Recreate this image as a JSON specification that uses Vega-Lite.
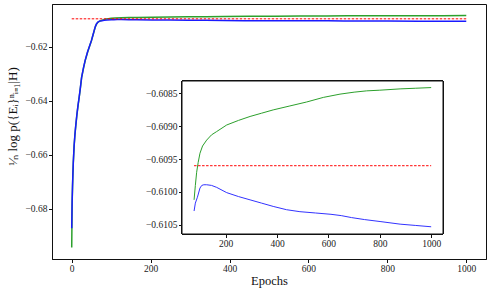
{
  "$schema": "https://vega.github.io/schema/vega-lite/v6.json",
  "width": 434,
  "height": 255,
  "autosize": "none",
  "padding": {"left": 52, "top": 4, "right": 5, "bottom": 30},
  "config": {
    "font": "Liberation Serif",
    "view": {"stroke": "#111111", "strokeWidth": 1},
    "axis": {
      "grid": false,
      "domainColor": "#111111",
      "domainWidth": 1,
      "tickColor": "#111111",
      "tickSize": 3.5,
      "labelFont": "Liberation Serif",
      "labelFontSize": 9.5,
      "labelColor": "#222222",
      "titleFont": "Liberation Serif",
      "titleFontWeight": "normal",
      "titleColor": "#111111"
    }
  },
  "datasets": {
    "runs": [
      {"s": "b", "e": 0, "v": -0.6873}, {"s": "b", "e": 1, "v": -0.6775}, {"s": "b", "e": 2, "v": -0.6718},
      {"s": "b", "e": 3, "v": -0.667}, {"s": "b", "e": 4, "v": -0.6628}, {"s": "b", "e": 6, "v": -0.6568},
      {"s": "b", "e": 8, "v": -0.6527}, {"s": "b", "e": 10, "v": -0.6495}, {"s": "b", "e": 13, "v": -0.6452},
      {"s": "b", "e": 16, "v": -0.6416}, {"s": "b", "e": 19, "v": -0.6385}, {"s": "b", "e": 22, "v": -0.635},
      {"s": "b", "e": 25, "v": -0.6313}, {"s": "b", "e": 30, "v": -0.6276}, {"s": "b", "e": 34, "v": -0.625},
      {"s": "b", "e": 40, "v": -0.6219}, {"s": "b", "e": 45, "v": -0.6198}, {"s": "b", "e": 50, "v": -0.6176},
      {"s": "b", "e": 54, "v": -0.6155}, {"s": "b", "e": 57, "v": -0.6139}, {"s": "b", "e": 60, "v": -0.6124},
      {"s": "b", "e": 63, "v": -0.6114}, {"s": "b", "e": 67, "v": -0.6107}, {"s": "b", "e": 72, "v": -0.61038},
      {"s": "b", "e": 77, "v": -0.61029}, {"s": "b", "e": 82, "v": -0.61017}, {"s": "b", "e": 90, "v": -0.61008},
      {"s": "b", "e": 100, "v": -0.60994}, {"s": "b", "e": 107, "v": -0.6099}, {"s": "b", "e": 115, "v": -0.60989},
      {"s": "b", "e": 126, "v": -0.60989}, {"s": "b", "e": 145, "v": -0.6099}, {"s": "b", "e": 165, "v": -0.60993},
      {"s": "b", "e": 204, "v": -0.61001}, {"s": "b", "e": 250, "v": -0.61007}, {"s": "b", "e": 295, "v": -0.61012},
      {"s": "b", "e": 340, "v": -0.61017}, {"s": "b", "e": 385, "v": -0.61022}, {"s": "b", "e": 437, "v": -0.61027},
      {"s": "b", "e": 489, "v": -0.6103}, {"s": "b", "e": 550, "v": -0.61032}, {"s": "b", "e": 610, "v": -0.61034},
      {"s": "b", "e": 650, "v": -0.61036}, {"s": "b", "e": 690, "v": -0.61039}, {"s": "b", "e": 740, "v": -0.61042},
      {"s": "b", "e": 801, "v": -0.61045}, {"s": "b", "e": 879, "v": -0.61049}, {"s": "b", "e": 940, "v": -0.61051},
      {"s": "b", "e": 1000, "v": -0.61053},
      {"s": "g", "e": 0, "v": -0.6944}, {"s": "g", "e": 1, "v": -0.6785}, {"s": "g", "e": 2, "v": -0.6722},
      {"s": "g", "e": 3, "v": -0.6672}, {"s": "g", "e": 4, "v": -0.663}, {"s": "g", "e": 6, "v": -0.657},
      {"s": "g", "e": 8, "v": -0.6529}, {"s": "g", "e": 10, "v": -0.6497}, {"s": "g", "e": 13, "v": -0.6454},
      {"s": "g", "e": 16, "v": -0.6418}, {"s": "g", "e": 19, "v": -0.6387}, {"s": "g", "e": 22, "v": -0.6352},
      {"s": "g", "e": 25, "v": -0.6315}, {"s": "g", "e": 30, "v": -0.6278}, {"s": "g", "e": 34, "v": -0.6252},
      {"s": "g", "e": 40, "v": -0.6221}, {"s": "g", "e": 45, "v": -0.6199}, {"s": "g", "e": 50, "v": -0.6177},
      {"s": "g", "e": 54, "v": -0.6156}, {"s": "g", "e": 57, "v": -0.614}, {"s": "g", "e": 60, "v": -0.6125},
      {"s": "g", "e": 63, "v": -0.6115}, {"s": "g", "e": 67, "v": -0.6108}, {"s": "g", "e": 72, "v": -0.61035},
      {"s": "g", "e": 77, "v": -0.61012}, {"s": "g", "e": 82, "v": -0.6099}, {"s": "g", "e": 87, "v": -0.6097},
      {"s": "g", "e": 93, "v": -0.60955}, {"s": "g", "e": 100, "v": -0.60941}, {"s": "g", "e": 110, "v": -0.6093},
      {"s": "g", "e": 126, "v": -0.60921}, {"s": "g", "e": 145, "v": -0.60913}, {"s": "g", "e": 165, "v": -0.60908},
      {"s": "g", "e": 204, "v": -0.60898}, {"s": "g", "e": 250, "v": -0.60891}, {"s": "g", "e": 295, "v": -0.60885},
      {"s": "g", "e": 340, "v": -0.6088}, {"s": "g", "e": 385, "v": -0.60875}, {"s": "g", "e": 450, "v": -0.60869},
      {"s": "g", "e": 515, "v": -0.60863}, {"s": "g", "e": 580, "v": -0.60856}, {"s": "g", "e": 645, "v": -0.60851},
      {"s": "g", "e": 700, "v": -0.60848}, {"s": "g", "e": 749, "v": -0.60846}, {"s": "g", "e": 800, "v": -0.60845},
      {"s": "g", "e": 879, "v": -0.60843}, {"s": "g", "e": 940, "v": -0.60842}, {"s": "g", "e": 1000, "v": -0.60841},
      {"s": "r", "e": 0, "v": -0.6096}, {"s": "r", "e": 77, "v": -0.6096}, {"s": "r", "e": 1000, "v": -0.6096}
    ]
  },
  "data": {"name": "runs"},
  "layer": [
    {
      "encoding": {
        "x": {
          "field": "e", "type": "quantitative",
          "scale": {"domain": [-50, 1050], "nice": false, "zero": false},
          "axis": {"values": [0, 200, 400, 600, 800, 1000], "format": "d", "title": "Epochs", "titleFontSize": 12.5, "titlePadding": 1.5, "labelPadding": 0.5}
        },
        "y": {
          "field": "v", "type": "quantitative",
          "scale": {"domain": [-0.6987, -0.6041], "nice": false, "zero": false},
          "axis": {"values": [-0.62, -0.64, -0.66, -0.68], "format": ".2f", "title": "¹⁄ₙ log p({Eᵢ}ⁿᵢ₌₁|H)", "titleFontSize": 13, "titlePadding": 6, "titleY": 112, "labelPadding": 1.5}
        }
      },
      "layer": [
        {"transform": [{"filter": "datum.s == 'g'"}], "mark": {"type": "line", "color": "#2ca02c", "strokeWidth": 1.5}},
        {"transform": [{"filter": "datum.s == 'b'"}], "mark": {"type": "line", "color": "#1a1aff", "strokeWidth": 1.5}},
        {"transform": [{"filter": "datum.s == 'r'"}], "mark": {"type": "line", "color": "#ff0000", "strokeWidth": 1, "strokeDash": [2.5, 1.5]}}
      ]
    },
    {
      "transform": [{"filter": "datum.e >= 76"}],
      "encoding": {
        "x": {
          "field": "e", "type": "quantitative",
          "scale": {"domain": [30, 1046], "range": [130, 391], "nice": false, "zero": false},
          "axis": {"orient": "bottom", "offset": -25, "values": [200, 400, 600, 800, 1000], "format": "d", "title": null, "labelPadding": 0.5, "domain": false}
        },
        "y": {
          "field": "v", "type": "quantitative",
          "scale": {"domain": [-0.61064, -0.60831], "range": [230, 77], "nice": false, "zero": false},
          "axis": {"orient": "left", "offset": -130, "values": [-0.6085, -0.609, -0.6095, -0.61, -0.6105], "format": ".4f", "title": null, "labelPadding": 1.5, "domain": false}
        }
      },
      "layer": [
        {
          "mark": {"type": "rect", "fill": "white", "stroke": "#111111", "strokeWidth": 1},
          "encoding": {
            "x": {"datum": 30, "type": "quantitative"},
            "x2": {"datum": 1046},
            "y": {"datum": -0.61064, "type": "quantitative"},
            "y2": {"datum": -0.60831}
          }
        },
        {"transform": [{"filter": "datum.s == 'g'"}], "mark": {"type": "line", "color": "#2ca02c", "strokeWidth": 1}},
        {"transform": [{"filter": "datum.s == 'b'"}], "mark": {"type": "line", "color": "#3333ff", "strokeWidth": 1}},
        {"transform": [{"filter": "datum.s == 'r'"}], "mark": {"type": "line", "color": "#ff0000", "strokeWidth": 1, "strokeDash": [2.5, 1.5]}}
      ]
    }
  ],
  "resolve": {"scale": {"x": "independent", "y": "independent"}}
}
